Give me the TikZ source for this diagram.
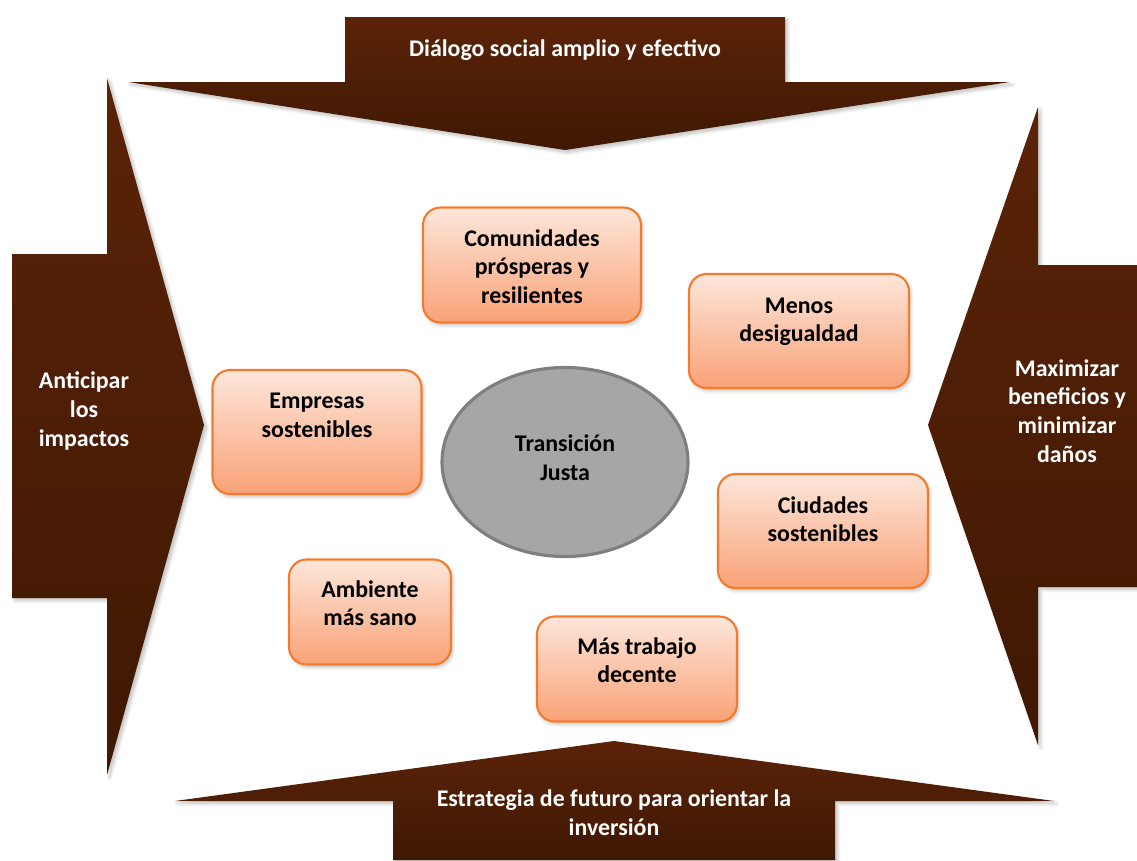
\documentclass[tikz,border=0pt]{standalone}
\usepackage{fontspec}
\setmainfont{Carlito}
\usetikzlibrary{shapes.geometric,shadows.blur}
\definecolor{cafeA}{HTML}{5B2308}
\definecolor{cafeB}{HTML}{3F1803}
\definecolor{naranja}{HTML}{F47B2C}
\definecolor{duraznoA}{HTML}{FDE6DA}
\definecolor{duraznoB}{HTML}{F9A277}
\definecolor{grisA}{HTML}{A6A6A6}
\definecolor{grisB}{HTML}{7F7F7F}
\begin{document}
\begin{tikzpicture}[x=0.02cm, y=-0.02cm, font=\bfseries\fontsize{13.6}{16.4}\selectfont,
    flecha/.style = {top color=cafeA, bottom color=cafeB, draw=none,
                     blur shadow={shadow blur steps=6, shadow xshift=1.5pt, shadow yshift=-1.5pt, shadow opacity=25}},
    rotulo/.style = {text=white, align=center},
    main/.style = {draw=naranja, line width=1.2pt, rounded corners=10pt, top color=duraznoA, bottom color=duraznoB,
                   align=center, text=black, text depth=0pt,
                   blur shadow={shadow blur steps=5, shadow xshift=1pt, shadow yshift=-1.5pt, shadow opacity=25}}]
    \useasboundingbox (0,0) rectangle (1137,860);
    % flechas
    \shade[flecha] (345,17) -- (785,17) -- (785,82) -- (1010,82) -- (565,150) -- (128,82) -- (345,82) -- cycle;
    \shade[flecha] (12,254) -- (107,254) -- (107,78) -- (204,425) -- (107,775) -- (107,598) -- (12,598) -- cycle;
    \shade[flecha] (1137,265) -- (1038,265) -- (1038,107) -- (928,425) -- (1038,745) -- (1038,587) -- (1137,587) -- cycle;
    \shade[flecha] (393,860) -- (393,801) -- (175,801) -- (614,741) -- (1054,801) -- (835,801) -- (835,860) -- cycle;
    \node[rotulo] (dialogo) at (565,50) {Diálogo social amplio y efectivo};
    \node[rotulo] (anticipar) at (84,411) {Anticipar\\los\\impactos};
    \node[rotulo] (maximizar) at (1067,411) {Maximizar\\beneficios y\\minimizar\\daños};
    \node[rotulo] (estrategia) at (614,813) {Estrategia de futuro para orientar la\\inversión};
    % centro
    \node[ellipse, draw=grisB, line width=1.8pt, fill=grisA, minimum width=246*0.02cm, minimum height=189*0.02cm,
          inner sep=0pt] (tj) at (565,462) {};
    \node[align=center] (tjtexto) at (tj) [yshift=0.08cm] {Transición\\Justa};
    % resultados
    \node[main, minimum width=218*0.02cm, minimum height=115*0.02cm, text height=44pt] (comunidades) at (532,265) {Comunidades\\prósperas y\\resilientes};
    \node[main, minimum width=220*0.02cm, minimum height=114*0.02cm, text height=12.4pt] (menos) at (799,331) {Menos\\desigualdad};
    \node[main, minimum width=209*0.02cm, minimum height=124*0.02cm, text height=5.7pt] (empresas) at (317,432) {Empresas\\sostenibles};
    \node[main, minimum width=210*0.02cm, minimum height=114*0.02cm, text height=12.4pt] (ciudades) at (823,531) {Ciudades\\sostenibles};
    \node[main, minimum width=162*0.02cm, minimum height=105*0.02cm, text height=15.9pt] (ambiente) at (370,612) {Ambiente\\más sano};
    \node[main, minimum width=200*0.02cm, minimum height=105*0.02cm, text height=15.9pt] (trabajo) at (637,669) {Más trabajo\\decente};
\end{tikzpicture}
\end{document}
